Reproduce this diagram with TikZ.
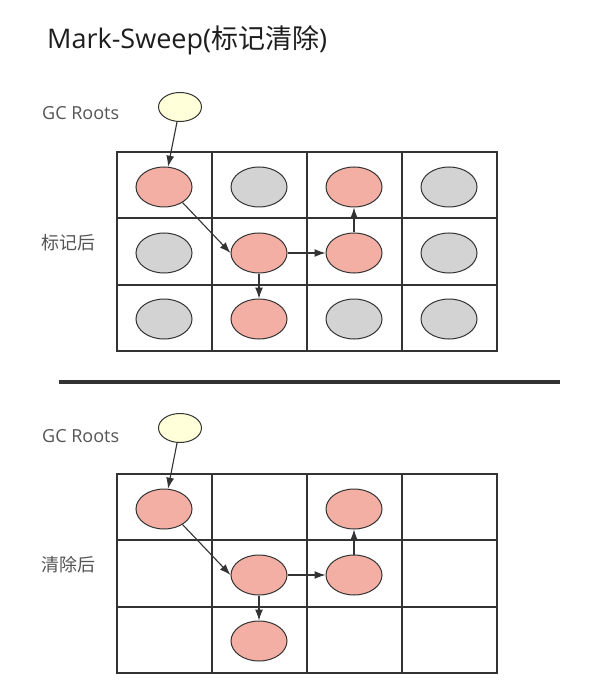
\documentclass[tikz,border=0pt]{standalone}
\usepackage{fontspec}
\setmainfont{Open Sans}
\newfontfamily\cjk{Noto Sans CJK SC}
\usetikzlibrary{shapes.geometric, arrows.meta}
\definecolor{linegray}{HTML}{333333}
\definecolor{livered}{HTML}{F4AFA5}
\definecolor{deadgray}{HTML}{D3D3D3}
\definecolor{rootyellow}{HTML}{FFFFD9}
\definecolor{labelgray}{HTML}{555555}
\definecolor{titleblack}{HTML}{1E1E1E}
\tikzstyle{liveobj} = [ellipse, minimum width=56pt, minimum
height=40pt, inner sep=0pt, draw=linegray, line width=1pt, fill=livered]
\tikzstyle{deadobj} = [liveobj, fill=deadgray]
\tikzstyle{rootobj} = [ellipse, minimum width=43pt, minimum
height=29pt, inner sep=0pt, draw=linegray, line width=1pt, fill=rootyellow]
\tikzstyle{sidetext} = [text=labelgray, font=\fontsize{18}{22}\selectfont,
anchor=west, inner sep=0pt]
\tikzstyle{cell} = [draw=linegray, line width=1.3pt]
\tikzstyle{arrow} =
[line width=1.1pt, draw=linegray, -{Latex[length=11pt,width=8pt]}]

\begin{document}
\begin{tikzpicture}[x=1pt, y=-1pt, node distance=95pt]

\fill[white] (0,0) rectangle (614,700);

% mark
\node(title)[anchor=base west, inner sep=0pt, text=titleblack,
font=\fontsize{27}{32}\selectfont] at (47,49) {Mark-Sweep({\cjk 标记清除})};
\node(mrootlabel)[sidetext, anchor=base west] at (42,120) {GC Roots};
\node(mlabel)[sidetext] at (41,243) {\cjk 标记后};
\node(mroot)[rootobj] at (180,107) {};

\draw[cell] (117,152) rectangle (497,351);
\draw[cell] (212,152) -- (212,351);
\draw[cell] (307,152) -- (307,351);
\draw[cell] (402,152) -- (402,351);
\draw[cell] (117,218) -- (497,218);
\draw[cell] (117,285) -- (497,285);

\node(m11)[liveobj] at (164,187) {};
\node(m12)[deadobj, right of=m11]{};
\node(m13)[liveobj, right of=m12]{};
\node(m14)[deadobj, right of=m13]{};
\node(m21)[deadobj, below of=m11, yshift=29pt]{};
\node(m22)[liveobj, right of=m21]{};
\node(m23)[liveobj, right of=m22]{};
\node(m24)[deadobj, right of=m23]{};
\node(m31)[deadobj, below of=m21, yshift=29pt]{};
\node(m32)[liveobj, right of=m31]{};
\node(m33)[deadobj, right of=m32]{};
\node(m34)[deadobj, right of=m33]{};

\draw[arrow](mroot) -- (m11);
\draw[arrow](m11.-40) -- (m22.west);
\draw[arrow](m22) -- (m23);
\draw[arrow](m22) -- (m32);
\draw[arrow](m23) -- (m13);

\draw[linegray, line width=4.5pt] (59,382) -- (560,382);

% sweep
\node(srootlabel)[sidetext, anchor=base west] at (42,442) {GC Roots};
\node(slabel)[sidetext] at (41,565) {\cjk 清除后};
\node(sroot)[rootobj] at (180,428) {};

\draw[cell] (117,474) rectangle (497,673);
\draw[cell] (212,474) -- (212,673);
\draw[cell] (307,474) -- (307,673);
\draw[cell] (402,474) -- (402,673);
\draw[cell] (117,540) -- (497,540);
\draw[cell] (117,607) -- (497,607);

\node(s11)[liveobj] at (164,509) {};
\node(s13)[liveobj, right of=s11, xshift=95pt]{};
\node(s22)[liveobj, below of=s11, xshift=95pt, yshift=29pt]{};
\node(s23)[liveobj, right of=s22]{};
\node(s32)[liveobj, below of=s22, yshift=29pt]{};

\draw[arrow](sroot) -- (s11);
\draw[arrow](s11.-40) -- (s22.west);
\draw[arrow](s22) -- (s23);
\draw[arrow](s22) -- (s32);
\draw[arrow](s23) -- (s13);

\end{tikzpicture}
\end{document}
